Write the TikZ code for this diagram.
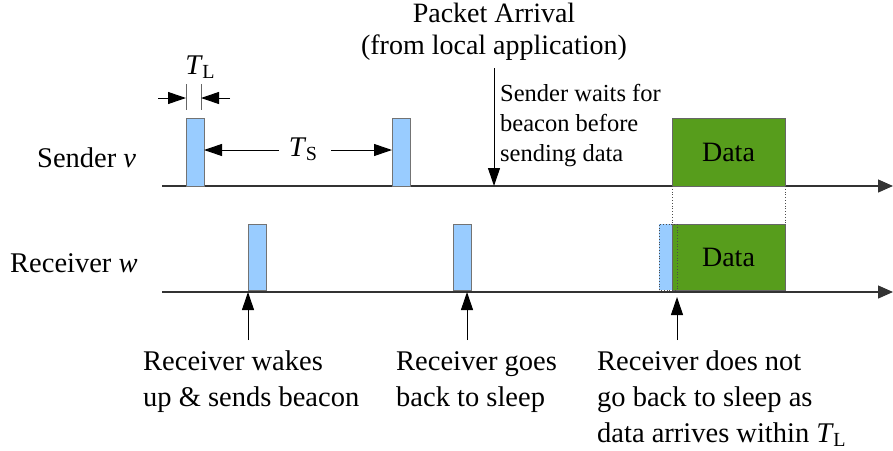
\documentclass[tikz,border=0pt]{standalone}
\usepackage{fontspec}
\setmainfont{Liberation Serif}
\usetikzlibrary{positioning}
\usetikzlibrary{arrows.meta}

\definecolor{beaconblue}{HTML}{99CCFF}
\definecolor{datagreen}{HTML}{579D1C}
\newcommand{\Tsub}[1]{\textit{T}\kern-0.5pt\raisebox{-4pt}{\fontsize{20}{20}\selectfont #1}}

\begin{document}
\begin{tikzpicture}[x=1pt,y=-1pt,
  beacon/.style={draw=black!55,line width=1pt,fill=beaconblue,minimum width=18pt,inner sep=0pt,outer sep=0pt},
  databox/.style={draw=black!60,line width=1pt,fill=datagreen,minimum width=113pt,inner sep=0pt,outer sep=0pt,font=\fontsize{28}{32}\selectfont},
  axis/.style={draw=black!80,line width=1.2pt,-{Triangle[length=15pt,width=13pt]}},
  arr/.style={draw=black,line width=1pt,-{Triangle[length=18pt,width=12pt]}},
  guide/.style={draw=black!70,line width=0.8pt,dotted},
  lbl/.style={inner sep=0pt,font=\fontsize{28.5}{36}\selectfont,align=left},
  note/.style={inner sep=0pt,font=\fontsize{24.5}{30}\selectfont,align=left}]
 \useasboundingbox (0,0) rectangle (893,450);
 % time axes
 \coordinate (sA) at (162,186); \coordinate (sB) at (893,186);
 \coordinate (rA) at (162,292); \coordinate (rB) at (893,292);
 \draw[axis] (sA) -- (sB);
 \draw[axis] (rA) -- (rB);
 \node[lbl,anchor=base west] (sender) at (37,167) {Sender \textit{v}};
 \node[lbl,anchor=base west] (receiver) at (10,272) {Receiver \textit{w}};
 % beacons
 \node[beacon,minimum height=68pt] (s1) at (195,152) {};
 \node[beacon,minimum height=68pt] (s2) at (401,152) {};
 \node[beacon,minimum height=66pt] (r1) at (257,257) {};
 \node[beacon,minimum height=66pt] (r2) at (462,257) {};
 \node[beacon,draw=none,minimum height=66pt] (r3) at (668,257) {};
 % data
 \node[databox,minimum height=68pt] (sdata) at (728.5,152) {Data};
 \node[databox,minimum height=66pt] (rdata) at (728.5,257) {Data};
 \draw[guide] (r3.south west) rectangle (r3.north east);
 \draw[guide] (sdata.south west) -- (rdata.north west);
 \draw[guide] (sdata.south east) -- (rdata.north east);
 % T_L
 \node[lbl] (tl) at (200,67) {\Tsub{L}};
 \coordinate (tla) at (186,84); \coordinate (tlb) at (201,84);
 \draw[black!60,line width=1pt] (tla) -- ++(0,26);
 \draw[black!60,line width=1pt] (tlb) -- ++(0,26);
 \coordinate (tl1) at (158,98); \coordinate (tl2) at (230,98);
 \draw[arr] (tl1) -- (tl1 -| tla);
 \draw[arr] (tl2) -- (tl2 -| tlb);
 % T_S
 \node[lbl] (ts) at (303,149) {\Tsub{S}};
 \draw[arr] ([xshift=-10pt,yshift=-1pt]ts.west) -- ([yshift=-1pt]ts.west -| s1.east);
 \draw[arr] ([xshift=14pt,yshift=-1pt]ts.east) -- ([yshift=-1pt]ts.east -| s2.west);
 % packet arrival
 \node[lbl,align=center,font=\fontsize{28}{32}\selectfont] (pkt) at (494,32) {Packet Arrival\\(from local application)};
 \coordinate (pa) at (494,68);
 \draw[arr] (pa) -- (pa |- sA);
 \node[note,anchor=base west] (wait) at (500,161) {Sender waits for\\beacon before\\sending data};
 % receiver events
 \node[lbl,anchor=base west] (wake) at (143,406) {Receiver wakes\\up \& sends beacon};
 \node[lbl,anchor=base west] (sleep) at (396,406) {Receiver goes\\back to sleep};
 \node[lbl,anchor=base west] (stay) at (597,442) {Receiver does not\\go back to sleep as\\data arrives within \Tsub{L}};
 \coordinate (u1) at (248,340); \coordinate (u2) at (467,340); \coordinate (u3) at (677,340);
 \draw[arr] (u1) -- (u1 |- rA);
 \draw[arr] (u2) -- (u2 |- rA);
 \draw[arr] (u3) -- ++(0,-43);
\end{tikzpicture}
\end{document}
